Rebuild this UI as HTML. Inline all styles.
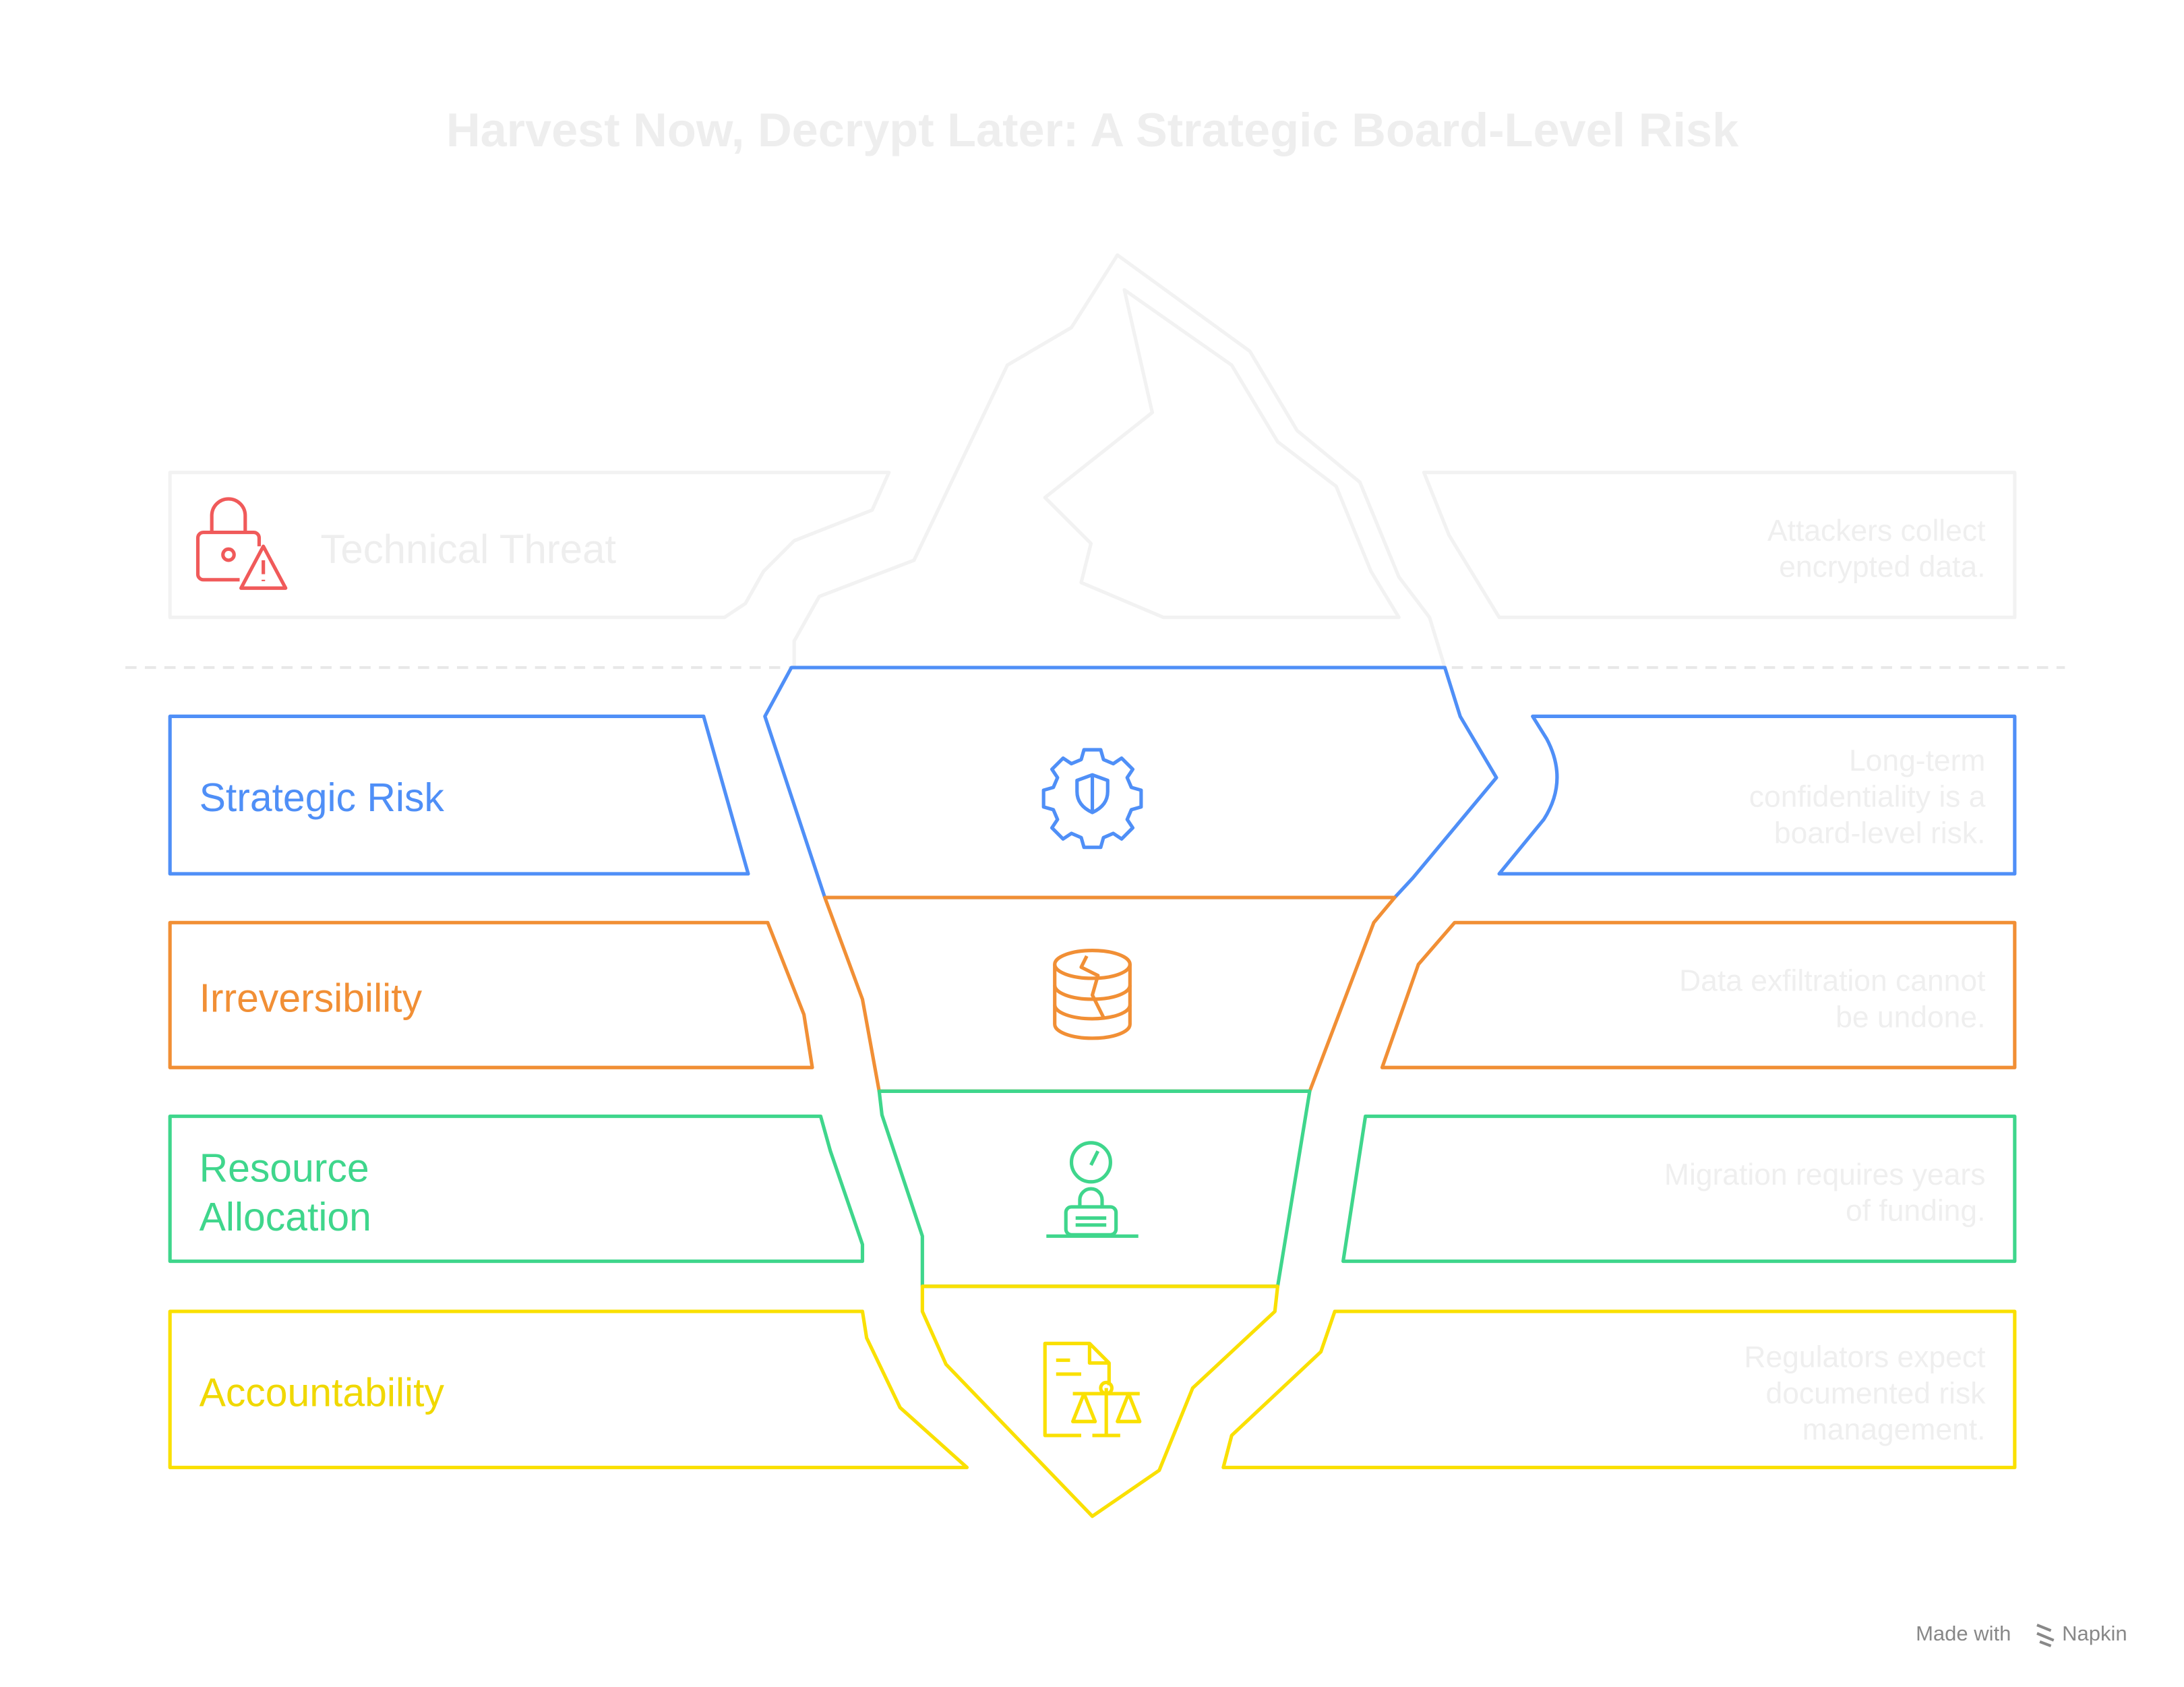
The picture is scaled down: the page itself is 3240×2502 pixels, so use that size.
<!DOCTYPE html>
<html><head><meta charset="utf-8"><style>
html,body{margin:0;padding:0;background:#fff;}
svg{display:block;}
text{font-family:"Liberation Sans",sans-serif;}
</style></head><body>
<svg width="3240" height="2502" viewBox="0 0 1567.5 1210.5" preserveAspectRatio="none" xmlns="http://www.w3.org/2000/svg">
<rect width="1570" height="1211" fill="#fff"/>
<text x="784" y="105" text-anchor="middle" font-size="34" font-weight="bold" fill="#eeeeee">Harvest Now, Decrypt Later: A Strategic Board-Level Risk</text>
<g fill="none" stroke-width="2.5" stroke-linejoin="round">
<g stroke="#f2f2f2">
<polygon points="122,339 638,339 626,366 570,388 548,410 535,433 520,443 122,443"/>
<polygon points="1022,339 1446,339 1446,443 1076,443 1040,384"/>
<polyline points="570,479 570,460 588,428 656,402 723,262 769,235 802,183 897,252 931,309 976,346 1004,414 1026,443 1037,479"/>
<polygon points="807,208 884,262 917,317 959,349 984,410 1004,443 835,443 776,418 783,390 750,357 827,296"/>
</g>
<line x1="90" y1="479" x2="1482" y2="479" stroke="#e8e8e8" stroke-width="2" stroke-dasharray="8,6"/>
<g stroke="#4f8ff7">
<polygon points="122,514 505,514 537,627 122,627"/>
<polygon points="568,479 1037,479 1048,514 1074,558 1014,630 1001,644 592,644 549,514"/>
<path d="M1100,514 L1446,514 L1446,627 L1076,627 L1108,588 Q1126,560 1110,530 Z"/>
</g>
<g stroke="#f18f35">
<polygon points="122,662 551,662 577,728 583,766 122,766"/>
<polygon points="592,644 1001,644 986,662 940,783 631,783 619,717"/>
<polygon points="1044,662 1446,662 1446,766 992,766 1018,692"/>
</g>
<g stroke="#3fd68c">
<polygon points="122,801 589,801 596,826 619,893 619,905 122,905"/>
<polygon points="631,783 940,783 917,923 662,923 662,887 633,800"/>
<polygon points="980,801 1446,801 1446,905 964,905"/>
</g>
<g stroke="#fae000">
<polygon points="122,941 619,941 622,960 646,1010 694,1053 122,1053"/>
<polygon points="662,923 917,923 915,941 856,996 832,1055 784,1088 679,979 662,941"/>
<polygon points="958,941 1446,941 1446,1053 878,1053 884,1030 948,970"/>
</g>
<g stroke="#f05a5a" stroke-width="2.5">
<path d="M152,382 v-12 a12,12 0 0 1 24,0 v12"/>
<path d="M172,416 h-26 a4,4 0 0 1 -4,-4 v-26 a4,4 0 0 1 4,-4 h36 a4,4 0 0 1 4,4 v6"/>
<circle cx="164" cy="398" r="4"/>
<path d="M189,392 L205,422 L173,422 Z"/>
<line x1="189" y1="402" x2="189" y2="412"/><line x1="189" y1="416" x2="189" y2="417"/>
</g>
<g stroke="#4f8ff7" stroke-width="2.5">
<path d="M778,538 h12 l2,7 l7,3 l6,-4 l8,8 l-4,6 l3,7 l7,2 v12 l-7,2 l-3,7 l4,6 l-8,8 l-6,-4 l-7,3 l-2,7 h-12 l-2,-7 l-7,-3 l-6,4 l-8,-8 l4,-6 l-3,-7 l-7,-2 v-12 l7,-2 l3,-7 l-4,-6 l8,-8 l6,4 l7,-3 z"/>
<path d="M784,556 l11,4 v8 q0,10 -11,15 q-11,-5 -11,-15 v-8 z"/><line x1="784" y1="556" x2="784" y2="583"/>
</g>
<g stroke="#f18f35" stroke-width="2.5">
<ellipse cx="784" cy="692" rx="27" ry="10"/>
<path d="M757,692 v43 a27,10 0 0 0 54,0 v-43"/>
<path d="M757,707 a27,10 0 0 0 54,0"/><path d="M757,721 a27,10 0 0 0 54,0"/>
<path d="M780,686 l-4,8 l12,6 l-4,14 l8,16"/>
</g>
<g stroke="#3fd68c" stroke-width="2.5">
<circle cx="783" cy="834" r="14"/><line x1="783" y1="836" x2="788" y2="826"/>
<path d="M775,866 v-5 a8,8 0 0 1 16,0 v5"/>
<rect x="765" y="866" width="36" height="20" rx="4"/>
<line x1="772" y1="874" x2="794" y2="874"/><line x1="772" y1="879" x2="794" y2="879"/>
<line x1="751" y1="887" x2="817" y2="887"/>
</g>
<g stroke="#fae000" stroke-width="2.5">
<path d="M776,1030 h-26 v-66 h32 l14,14 v16"/><path d="M782,964 v14 h14"/>
<line x1="758" y1="976" x2="768" y2="976"/><line x1="758" y1="986" x2="776" y2="986"/>
<line x1="794" y1="996" x2="794" y2="1030"/><circle cx="794" cy="996" r="4"/>
<line x1="770" y1="1000" x2="818" y2="1000"/>
<path d="M778,1000 l-8,20 h16 z"/><path d="M810,1000 l-8,20 h16 z"/>
<line x1="784" y1="1030" x2="804" y2="1030"/>
</g>
</g>
<text x="230" y="404" font-size="29" fill="#eeeeee">Technical Threat</text>
<g font-size="28.5">
<text x="143" y="582" fill="#4f8ff7">Strategic Risk</text>
<text x="143" y="726" fill="#f18f35">Irreversibility</text>
<text x="143" y="848" fill="#3fd68c">Resource</text>
<text x="143" y="883" fill="#3fd68c">Allocation</text>
<text x="143" y="1009" fill="#f0d800">Accountability</text>
</g>
<g font-size="21.5" fill="#efefef" text-anchor="end">
<text x="1425" y="388">Attackers collect</text><text x="1425" y="414">encrypted data.</text>
<text x="1425" y="553">Long-term</text><text x="1425" y="579">confidentiality is a</text><text x="1425" y="605">board-level risk.</text>
<text x="1425" y="711">Data exfiltration cannot</text><text x="1425" y="737">be undone.</text>
<text x="1425" y="850">Migration requires years</text><text x="1425" y="876">of funding.</text>
<text x="1425" y="981">Regulators expect</text><text x="1425" y="1007">documented risk</text><text x="1425" y="1033">management.</text>
</g>
<text x="1375" y="1177" font-size="15" fill="#888">Made with</text>
<path d="M1462,1166 l10,4 M1462,1172 l12,5 M1464,1178 l8,3" stroke="#888" stroke-width="2"/>
<text x="1480" y="1177" font-size="15" fill="#888">Napkin</text>
</svg>
</body></html>
